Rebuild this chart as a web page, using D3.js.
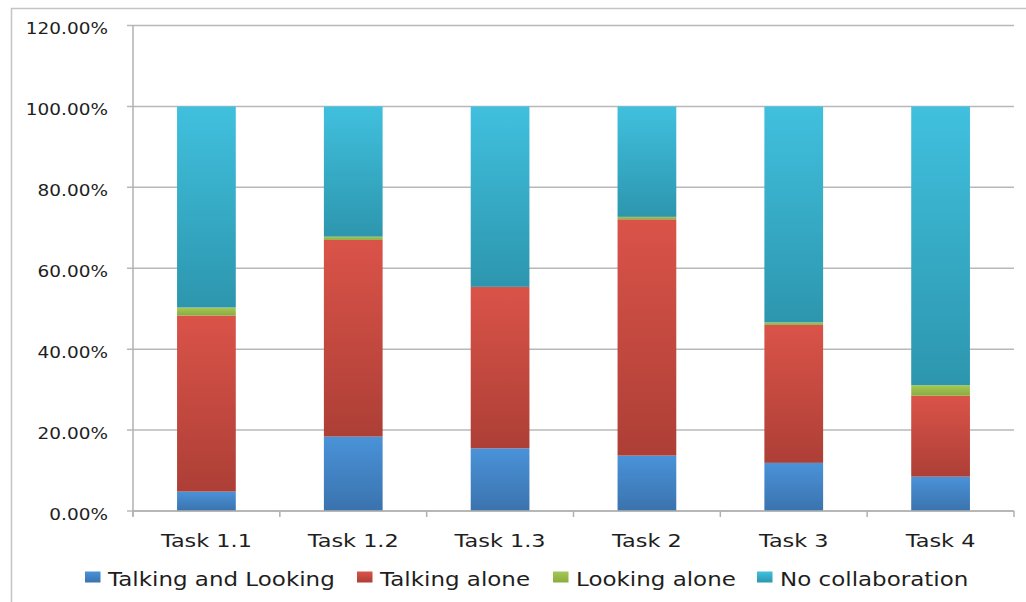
<!DOCTYPE html>
<html><head><meta charset="utf-8">
<script src="https://cdn.jsdelivr.net/npm/d3@7/dist/d3.min.js"></script>
<style>body{margin:0;background:#fff}svg{display:block}text{font-family:"DejaVu Sans",sans-serif;fill:#1e1e1e}</style>
</head><body><svg id="c" width="1026" height="602"></svg>
<script>
const categories = ["Task 1.1","Task 1.2","Task 1.3","Task 2","Task 3","Task 4"];
const seriesNames = ["Talking and Looking","Talking alone","Looking alone","No collaboration"];
const talkingAndLooking = [4.8, 18.4, 15.5, 13.7, 11.9, 8.5];
const talkingAlone      = [43.5, 48.6, 39.9, 58.4, 34.1, 20.0];
const lookingAlone      = [2.0, 0.8, 0.0, 0.6, 0.6, 2.6];
const noCollaboration   = [49.7, 32.2, 44.6, 27.3, 53.4, 68.9];
const yTicks = [0, 20, 40, 60, 80, 100, 120];

const colors = [
  ["#4a92d8","#3a73ae"],
  ["#da5349","#ad3f36"],
  ["#a6c855","#8aab3f"],
  ["#40c0de","#2d96ae"]
];

const svg = d3.select("#c");
const mLeft = 133, mRight = 1014, mTop = 25.5, mBottom = 511;
const sx = 1.21;

// frame
svg.append("path").attr("d","M11.5,602 V8.5 H1026").attr("fill","none").attr("stroke","#c4c4c4").attr("stroke-width",1.5);

const defs = svg.append("defs");
colors.forEach((c,i)=>{
  const g = defs.append("linearGradient").attr("id","g"+i).attr("x1",0).attr("y1",0).attr("x2",0).attr("y2",1);
  g.append("stop").attr("offset","0%").attr("stop-color",c[0]);
  g.append("stop").attr("offset","100%").attr("stop-color",c[1]);
});

const x = d3.scaleBand().domain(categories).range([mLeft,mRight]).paddingInner(0.6).paddingOuter(0.3);
const y = d3.scaleLinear().domain([0,120]).range([mBottom,mTop]);

// gridlines
svg.append("g").selectAll("line").data(yTicks).join("line")
  .attr("x1",mLeft-6).attr("x2",mRight).attr("y1",d=>y(d)).attr("y2",d=>y(d))
  .attr("stroke","#b8b8b8").attr("stroke-width",1.5);

// y labels
svg.append("g").selectAll("text").data(yTicks).join("text")
  .attr("transform",d=>`translate(108,${y(d)+8.5}) scale(1.14,1)`)
  .attr("text-anchor","end").attr("font-size",16.2)
  .text(d=>d.toFixed(2)+"%");

// stacked data
const rows = categories.map((c,i)=>({cat:c, s0:talkingAndLooking[i], s1:talkingAlone[i], s2:lookingAlone[i], s3:noCollaboration[i]}));
const stack = d3.stack().keys(["s0","s1","s2","s3"])(rows);

stack.forEach((layer,li)=>{
  svg.append("g").selectAll("rect").data(layer).join("rect")
    .attr("x",d=>x(d.data.cat)).attr("width",x.bandwidth())
    .attr("y",d=>y(d[1])).attr("height",d=>Math.max(0,y(d[0])-y(d[1])))
    .attr("fill","url(#g"+li+")");
});

// axes lines
svg.append("line").attr("x1",mLeft).attr("x2",mLeft).attr("y1",mTop).attr("y2",mBottom+5).attr("stroke","#b0b0b0").attr("stroke-width",1.5);
svg.append("line").attr("x1",mLeft).attr("x2",mRight).attr("y1",mBottom).attr("y2",mBottom).attr("stroke","#b0b0b0").attr("stroke-width",1.5);
const step = x.step();
const bounds = d3.range(categories.length+1).map(i=>mLeft+i*step);
svg.append("g").selectAll("line").data(bounds).join("line")
  .attr("x1",d=>d).attr("x2",d=>d).attr("y1",mBottom).attr("y2",mBottom+6)
  .attr("stroke","#b0b0b0").attr("stroke-width",1.5);

// x labels
svg.append("g").selectAll("text").data(categories).join("text")
  .attr("transform",d=>`translate(${x(d)+x.bandwidth()/2},547) scale(${sx},1)`)
  .attr("text-anchor","middle").attr("font-size",18.5)
  .text(d=>d);

// legend
const legX = [85, 357, 553, 757];
const lg = svg.append("g");
seriesNames.forEach((n,i)=>{
  lg.append("rect").attr("x",legX[i]).attr("y",571.5).attr("width",15.5).attr("height",11).attr("fill","url(#g"+i+")");
  lg.append("text").attr("transform",`translate(${legX[i]+23},586) scale(${sx},1)`).attr("font-size",19).text(n);
});
</script></body></html>
